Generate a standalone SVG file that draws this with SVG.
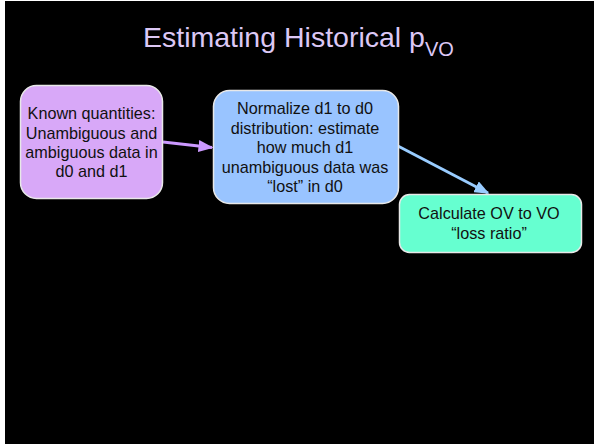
<svg xmlns="http://www.w3.org/2000/svg" width="594" height="444" viewBox="0 0 594 444">
<defs>
<style>
.node rect{stroke:#e8e8e8;stroke-width:1.5}
.lbl{font-family:"Liberation Sans",Arial,sans-serif;font-size:16.2px;fill:#111;text-anchor:middle}
.title{font-family:"Liberation Sans",Arial,sans-serif;fill:#dcc8f5}
</style>
<marker id="ahP" markerWidth="5" markerHeight="4" refX="4.5" refY="2" orient="auto" markerUnits="strokeWidth"><path d="M0,0 L5,2 L0,4 Z" fill="#cc99ff"/></marker>
<marker id="ahB" markerWidth="5" markerHeight="4" refX="4.5" refY="2" orient="auto" markerUnits="strokeWidth"><path d="M0,0 L5,2 L0,4 Z" fill="#99ccff"/></marker>
</defs>
<rect x="0" y="0" width="594" height="444" fill="#ffffff"/>
<rect x="5" y="1" width="589" height="443" fill="#000000"/>
<text class="title" x="143" y="47" font-size="28.5">Estimating Historical p<tspan font-size="20" dy="9">VO</tspan></text>
<g id="connectors">
<line x1="163" y1="142" x2="212" y2="147.5" stroke="#cc99ff" stroke-width="3" marker-end="url(#ahP)"/>
<line x1="396" y1="145" x2="488" y2="193" stroke="#99ccff" stroke-width="3" marker-end="url(#ahB)"/>
</g>
<g id="node1" class="node">
<rect x="20.5" y="85.5" width="142" height="113" rx="16" fill="#d8a8f8"/>
<text class="lbl" x="91.5" y="119">Known quantities:</text>
<text class="lbl" x="91.5" y="138.5">Unambiguous and</text>
<text class="lbl" x="91.5" y="158">ambiguous data in</text>
<text class="lbl" x="91.5" y="177">d0 and d1</text>
</g>
<g id="node2" class="node">
<rect x="213.5" y="90.5" width="185" height="113" rx="16" fill="#99c4ff"/>
<text class="lbl" x="305" y="114">Normalize d1 to d0</text>
<text class="lbl" x="305" y="133.5">distribution: estimate</text>
<text class="lbl" x="305" y="153">how much d1</text>
<text class="lbl" x="305" y="172.5">unambiguous data was</text>
<text class="lbl" x="305" y="192">“lost” in d0</text>
</g>
<g id="node3" class="node">
<rect x="399.5" y="194.5" width="182" height="58" rx="10" fill="#66ffd0"/>
<text class="lbl" x="489" y="219">Calculate OV to VO</text>
<text class="lbl" x="489" y="238.5">“loss ratio”</text>
</g>
</svg>
